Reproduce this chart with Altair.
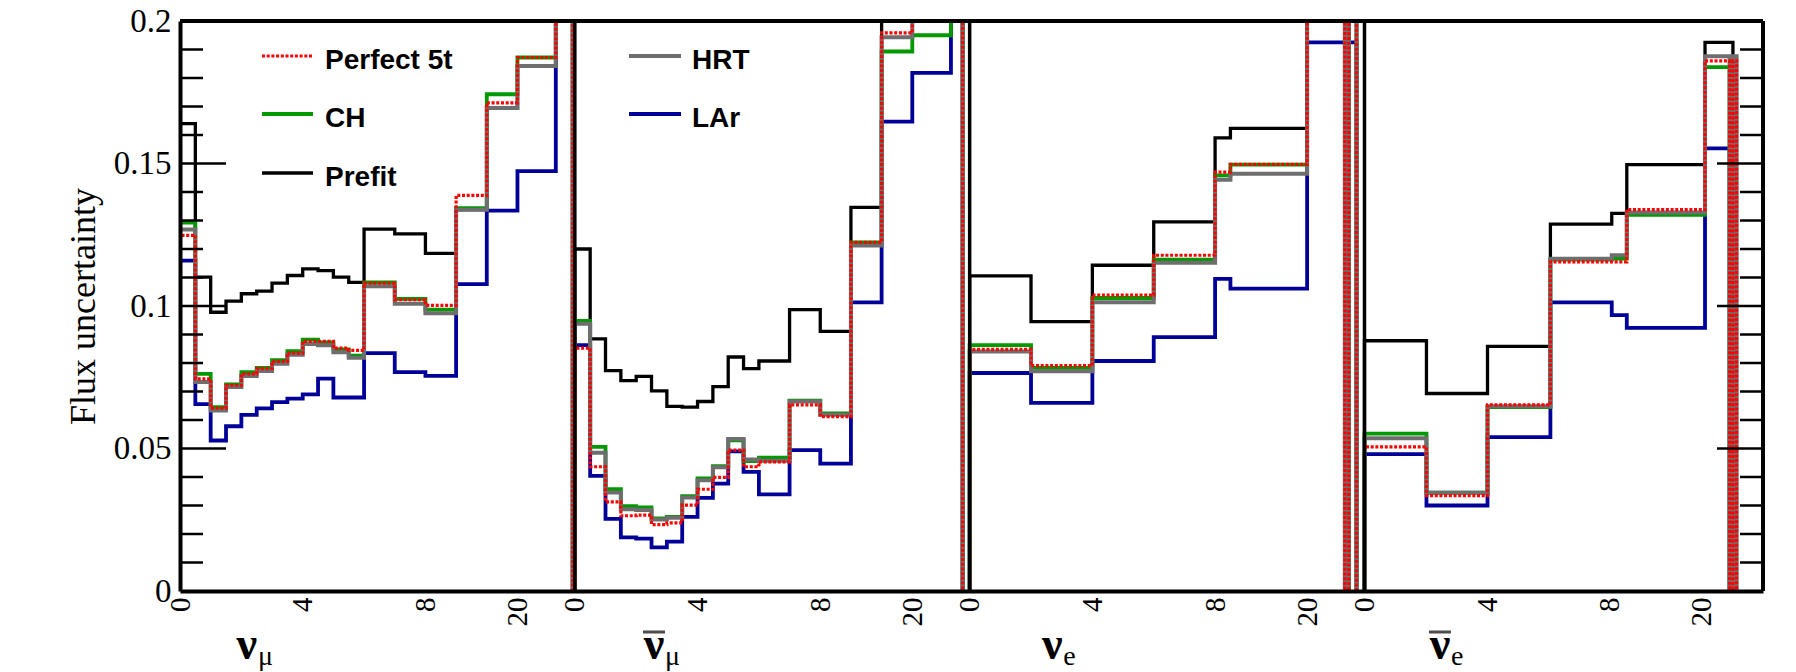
import altair as alt
import pandas as pd

# ---------------- data ----------------
# values above 0.2 are off-scale (drawn clipped at the frame top): written as 0.25
SERIES = ["Prefit", "LAr", "CH", "HRT", "Perfect 5t"]   # drawing order

# nu_mu panel
NUMU_EDGES = [0, 0.5, 1, 1.5, 2, 2.5, 3, 3.5, 4, 4.5, 5, 5.5, 6, 7, 8, 9, 10, 11, 12.25, 12.8]
NUMU_PREFIT = [0.164, 0.1101, 0.0978, 0.1017, 0.1043, 0.1052, 0.108, 0.1107, 0.113, 0.1124, 0.1101, 0.1083, 0.127, 0.1253, 0.1185, 0.1338, 0.1695, 0.1842, 0.25]
NUMU_LAR = [0.1159, 0.0656, 0.0528, 0.0578, 0.0618, 0.0641, 0.0663, 0.0675, 0.069, 0.0745, 0.0679, 0.0679, 0.0835, 0.0768, 0.0755, 0.1077, 0.1335, 0.1473, 0.25]
NUMU_CH = [0.1293, 0.0762, 0.0645, 0.0725, 0.0768, 0.0783, 0.081, 0.0842, 0.0882, 0.0872, 0.0848, 0.0826, 0.1083, 0.1025, 0.0987, 0.1343, 0.1743, 0.1872, 0.25]
NUMU_HRT = [0.1268, 0.0733, 0.0633, 0.0716, 0.0754, 0.0772, 0.0797, 0.0829, 0.0867, 0.0862, 0.0838, 0.0818, 0.1069, 0.1008, 0.0975, 0.1338, 0.1695, 0.1842, 0.25]
NUMU_P5T = [0.1248, 0.0744, 0.0642, 0.0722, 0.0762, 0.078, 0.0806, 0.0835, 0.0876, 0.0876, 0.0852, 0.0844, 0.108, 0.1022, 0.1002, 0.1388, 0.1713, 0.1872, 0.25]

# anti nu_mu panel
NUMUBAR_EDGES = [0, 0.5, 1, 1.5, 2, 2.5, 3, 3.5, 4, 4.5, 5, 5.5, 6, 6.5, 7, 8, 9, 10, 11, 12.26, 12.64]
NUMUBAR_PREFIT = [0.120, 0.0885, 0.0773, 0.0738, 0.0753, 0.0702, 0.0648, 0.0645, 0.0665, 0.0717, 0.0821, 0.078, 0.0807, 0.0807, 0.0987, 0.0911, 0.1346, 0.25, 0.25, 0.25]
NUMUBAR_LAR = [0.0863, 0.0404, 0.0253, 0.0188, 0.0184, 0.0153, 0.0173, 0.0260, 0.0327, 0.0377, 0.0490, 0.0418, 0.0339, 0.0339, 0.0494, 0.0447, 0.1013, 0.1647, 0.1818, 0.25]
NUMUBAR_CH = [0.0948, 0.0506, 0.0357, 0.0298, 0.0293, 0.0255, 0.0260, 0.0333, 0.0395, 0.0438, 0.0529, 0.0456, 0.0468, 0.0468, 0.0668, 0.0623, 0.1223, 0.1893, 0.195, 0.25]
NUMUBAR_HRT = [0.0938, 0.0485, 0.0346, 0.0287, 0.0284, 0.0251, 0.0257, 0.0328, 0.0389, 0.0434, 0.0533, 0.0461, 0.0457, 0.0457, 0.0665, 0.0618, 0.1212, 0.1943, 0.25, 0.25]
NUMUBAR_P5T = [0.0852, 0.0436, 0.0313, 0.0264, 0.0266, 0.0233, 0.0239, 0.0301, 0.0357, 0.0399, 0.0494, 0.0436, 0.0453, 0.0453, 0.0653, 0.0612, 0.1223, 0.1958, 0.25, 0.25]

# nu_e panel
NUE_EDGES = [0, 2, 4, 6, 8, 8.5, 11, 12.23, 12.36, 12.61]
NUE_PREFIT = [0.1106, 0.0945, 0.1143, 0.1295, 0.159, 0.1623, 0.25, 0.0, 0.25]
NUE_LAR = [0.0765, 0.066, 0.0807, 0.0891, 0.1095, 0.1061, 0.1925, 0.1925, 0.1925]
NUE_CH = [0.0863, 0.0783, 0.1028, 0.1163, 0.1458, 0.1496, 0.25, 0.0, 0.25]
NUE_HRT = [0.084, 0.0771, 0.1013, 0.1152, 0.1443, 0.1464, 0.25, 0.0, 0.25]
NUE_P5T = [0.0848, 0.0791, 0.1038, 0.1178, 0.147, 0.1497, 0.25, 0.0, 0.25]

# anti nu_e panel
NUEBAR_EDGES = [0, 2.02, 4.01, 6.06, 8.06, 8.55, 11.1, 11.9, 12.01, 12.13]
NUEBAR_PREFIT = [0.0878, 0.0693, 0.0858, 0.1287, 0.1325, 0.1496, 0.1925, 0.1925, 0.0]
NUEBAR_LAR = [0.048, 0.030, 0.054, 0.1013, 0.0968, 0.0923, 0.1553, 0.0, 0.0]
NUEBAR_CH = [0.0552, 0.0345, 0.0645, 0.1163, 0.1166, 0.132, 0.1838, 0.0, 0.0]
NUEBAR_HRT = [0.0536, 0.0345, 0.0648, 0.1166, 0.1178, 0.1328, 0.1876, 0.0, 0.1876]
NUEBAR_P5T = [0.0506, 0.0335, 0.0653, 0.1155, 0.1155, 0.1338, 0.186, 0.0, 0.186]

TICK_LOCAL = [0, 4, 8, 11]
TICK_TEXT = ["0", "4", "8", "20"]
Y_TICKS = [0, 0.05, 0.1, 0.15, 0.2]
Y_MAJOR = [0.05, 0.1, 0.15]
Y_MINOR = [0.01, 0.02, 0.03, 0.04, 0.06, 0.07, 0.08, 0.09, 0.11, 0.12, 0.13, 0.14, 0.16, 0.17, 0.18, 0.19]

FLAVOUR_SUB = ["μ", "μ", "e", "e"]
FLAVOUR_BAR = [False, True, False, True]
FLAVOUR_POS = [2.18, 2.58, 2.69, 2.46]

LEGEND_LEFT = ["Perfect 5t", "CH", "Prefit"]
LEGEND_RIGHT = ["HRT", "LAr"]

# ---------------- layout / style ----------------
PANEL_START = [0, 12.87, 25.74, 38.61]
X_MAX = 51.6
W, H = 1583, 570
COL = {"Prefit": "#000000", "LAr": "#000099", "CH": "#009900", "HRT": "#6e6e6e", "Perfect 5t": "#ff0000"}
SW = {"Prefit": 3.3, "LAr": 3.8, "CH": 3.8, "HRT": 4.0, "Perfect 5t": 3.2}
DASH = {"Perfect 5t": [3, 1.7]}
SERIF = "Liberation Serif"
SANS = "Liberation Sans"

panels = [
    (NUMU_EDGES, {"Prefit": NUMU_PREFIT, "LAr": NUMU_LAR, "CH": NUMU_CH, "HRT": NUMU_HRT, "Perfect 5t": NUMU_P5T}),
    (NUMUBAR_EDGES, {"Prefit": NUMUBAR_PREFIT, "LAr": NUMUBAR_LAR, "CH": NUMUBAR_CH, "HRT": NUMUBAR_HRT, "Perfect 5t": NUMUBAR_P5T}),
    (NUE_EDGES, {"Prefit": NUE_PREFIT, "LAr": NUE_LAR, "CH": NUE_CH, "HRT": NUE_HRT, "Perfect 5t": NUE_P5T}),
    (NUEBAR_EDGES, {"Prefit": NUEBAR_PREFIT, "LAr": NUEBAR_LAR, "CH": NUEBAR_CH, "HRT": NUEBAR_HRT, "Perfect 5t": NUEBAR_P5T}),
]

rows = []
for p, (edges, series) in enumerate(panels):
    o = PANEL_START[p]
    for s, vals in series.items():
        pts = [(edges[0], 0.0)]
        for i, v in enumerate(vals):
            pts.append((edges[i], v))
            pts.append((edges[i + 1], v))
        pts.append((edges[-1], 0.0))
        for k, (xx, yy) in enumerate(pts):
            rows.append({"series": s, "panel": p, "k": k, "x": o + xx, "y": yy})
hist = pd.DataFrame(rows)

x_scale = alt.Scale(domain=[0, X_MAX], nice=False, zero=False)
y_scale = alt.Scale(domain=[0, 0.2], nice=False, zero=False)

xt_vals, xt_labs = [], []
for o in PANEL_START:
    for v, t in zip(TICK_LOCAL, TICK_TEXT):
        xt_vals.append(round(o + v, 4))
        xt_labs.append(t)
expr = "''"
for v, t in reversed(list(zip(xt_vals, xt_labs))):
    expr = f"abs(datum.value - {v}) < 0.01 ? '{t}' : ({expr})"

x_axis = alt.Axis(values=xt_vals, labelExpr=expr, labelAngle=270, labelFont=SERIF,
                  labelFontSize=29, labelColor="black", labelPadding=6, ticks=False,
                  domainColor="black", domainWidth=4, grid=False, title=None,
                  labelFlush=False, labelOverlap=False, zindex=1)
y_axis = alt.Axis(values=Y_TICKS, format="~g", labelFont=SERIF, labelFontSize=33,
                  labelColor="black", labelPadding=9, ticks=False,
                  domainColor="black", domainWidth=4, grid=False, title="Flux uncertainty",
                  titleFont=SERIF, titleFontSize=36, titleFontWeight="normal",
                  titleColor="black", titlePadding=11, labelFlush=False,
                  labelOverlap=False, zindex=1)

X = lambda f: alt.X(f, scale=x_scale, axis=x_axis)
Y = lambda f: alt.Y(f, scale=y_scale, axis=y_axis)

layers = []

# histograms
for j, s in enumerate(SERIES):
    mk = dict(color=COL[s], strokeWidth=SW[s], clip=True, strokeJoin="miter", strokeCap="butt")
    if s in DASH:
        mk["strokeDash"] = DASH[s]
    layers.append(alt.Chart(hist).transform_filter(alt.datum.series == s).mark_line(**mk).encode(
        x=X("x:Q"), y=Y("y:Q"), detail="panel:N", order="k:Q"))

# y ticks (inside the frame, left and right)
major = pd.DataFrame({"v": Y_MAJOR})
minor = pd.DataFrame({"v": Y_MINOR})
for d, L in ((major, 46), (minor, 23)):
    layers.append(alt.Chart(d).mark_rule(color="black", strokeWidth=2.5).encode(
        y=Y("v:Q"), x=alt.value(0), x2=alt.value(L)))
    layers.append(alt.Chart(d).mark_rule(color="black", strokeWidth=2.5).encode(
        y=Y("v:Q"), x=alt.value(W - L), x2=alt.value(W)))

# panel separators
sep = pd.DataFrame({"x": PANEL_START[1:]})
layers.append(alt.Chart(sep).mark_rule(color="black", strokeWidth=3.5).encode(
    x=X("x:Q"), y=alt.value(0), y2=alt.value(H)))

# top and right frame
one = pd.DataFrame({"a": [0]})
layers.append(alt.Chart(one).mark_rule(color="black", strokeWidth=4).encode(
    x=alt.value(0), x2=alt.value(W), y=alt.value(0)))
layers.append(alt.Chart(one).mark_rule(color="black", strokeWidth=4).encode(
    x=alt.value(W), y=alt.value(0), y2=alt.value(H)))

# legend
ROW_Y = [35, 93, 152]
for names, (x0, x1, tx) in ((LEGEND_LEFT, (82, 133, 145)), (LEGEND_RIGHT, (449, 501, 512))):
    for r, s in enumerate(names):
        d = pd.DataFrame({"label": [s]})
        mk = dict(color=COL[s], strokeWidth=SW[s], strokeCap="butt")
        if s in DASH:
            mk["strokeDash"] = DASH[s]
        layers.append(alt.Chart(d).mark_rule(**mk).encode(
            x=alt.value(x0), x2=alt.value(x1), y=alt.value(ROW_Y[r])))
        layers.append(alt.Chart(d).mark_text(font=SANS, fontSize=28, fontWeight="bold",
                                             align="left", baseline="alphabetic", color="black").encode(
            x=alt.value(tx), y=alt.value(ROW_Y[r] + 13), text="label:N"))

# flavour labels under the panels
lab = pd.DataFrame({
    "x": [PANEL_START[p] + FLAVOUR_POS[p] for p in range(4)],
    "nu": ["ν"] * 4,
    "sub": FLAVOUR_SUB,
    "bar": FLAVOUR_BAR,
})
layers.append(alt.Chart(lab).mark_text(font=SERIF, fontSize=46, fontWeight="bold", align="center",
                                       baseline="alphabetic", color="black").encode(
    x=X("x:Q"), y=alt.value(638), text="nu:N"))
layers.append(alt.Chart(lab).mark_text(font=SERIF, fontSize=28, align="left", dx=11,
                                       baseline="alphabetic", color="black").encode(
    x=X("x:Q"), y=alt.value(644), text="sub:N"))
layers.append(alt.Chart(lab).transform_filter(alt.datum.bar == True).mark_tick(
    orient="horizontal", size=22, thickness=3, color="black").encode(
    x=X("x:Q"), y=alt.value(611)))

chart = alt.layer(*layers).properties(
    width=W, height=H,
    autosize=alt.AutoSizeParams(type="none"),
    padding={"left": 172, "top": 13, "right": 10, "bottom": 80},
    background="white",
).configure_view(stroke=None)

chart.save("out.html", embed_options={"renderer": "svg", "actions": False})
